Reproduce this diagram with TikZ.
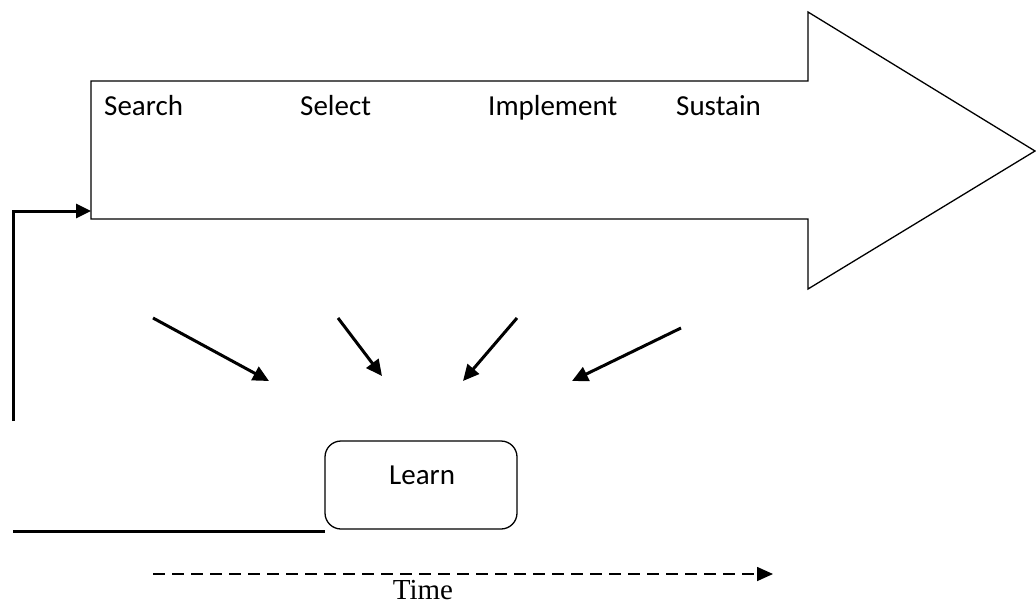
\documentclass[tikz,border=0pt]{standalone}
\usepackage{fontspec}
\setmainfont{Liberation Serif}
\newfontfamily\lblfont{Carlito}
\usetikzlibrary{arrows.meta}
\begin{document}
\begin{tikzpicture}[x=1pt,y=-1pt,
  lbl/.style={font=\lblfont\fontsize{29}{34}\selectfont, anchor=base west, inner sep=0pt},
  thick line/.style={line width=3pt},
  pointer/.style={line width=3pt, -{Triangle[length=16pt,width=15pt]}},
  outline/.style={line width=1.3pt, line join=miter}]
\useasboundingbox (0,0) rectangle (1036,605);
% big process arrow
\draw[outline] (91,81) -- (808,81) -- (808,12) -- (1035,151) -- (808,289) -- (808,219) -- (91,219) -- cycle;
\coordinate (bodyleft) at (91,211);
% stage labels
\node[lbl] (search) at (104,115) {Search};
\node[lbl] (select) at (300,115) {Select};
\node[lbl] (implement) at (488,115) {Implement};
\node[lbl] (sustain) at (676,115) {Sustain};
% learn box
\node[draw, line width=1.3pt, rounded corners=16pt, minimum width=192pt, minimum height=88pt, inner sep=0pt] (learn) at (421,485) {};
\node[lbl] (learntxt) at (389,484) {Learn};
% diagonal pointers
\coordinate (a1s) at (153,318); \coordinate (a1e) at (269,381);
\coordinate (a2s) at (338,318); \coordinate (a2e) at (382,376);
\coordinate (a3s) at (517,318); \coordinate (a3e) at (463,381);
\coordinate (a4s) at (681,328); \coordinate (a4e) at (572,381);
\draw[pointer] (a1s) -- (a1e);
\draw[pointer] (a2s) -- (a2e);
\draw[pointer] (a3s) -- (a3e);
\draw[pointer] (a4s) -- (a4e);
% feedback loop
\coordinate (fbbottom) at (13,421);
\coordinate (fbcorner) at (13,211);
\draw[line width=3pt, -{Triangle[length=15pt,width=14pt]}] (fbbottom) -- (fbcorner) -- (bodyleft);
\coordinate (baseleft) at (13,531);
\coordinate (baseright) at (325,531);
\draw[thick line] (baseleft) -- (baseright);
% time axis
\coordinate (ts) at (153,574);
\coordinate (te) at (773,574);
\draw[line width=1.6pt, dash pattern=on 12pt off 7pt, -{Triangle[length=16pt,width=14pt]}] (ts) -- (te);
\node[font=\fontsize{29}{34}\selectfont, anchor=base, inner sep=0pt] (time) at (423,599) {Time};
\end{tikzpicture}
\end{document}
